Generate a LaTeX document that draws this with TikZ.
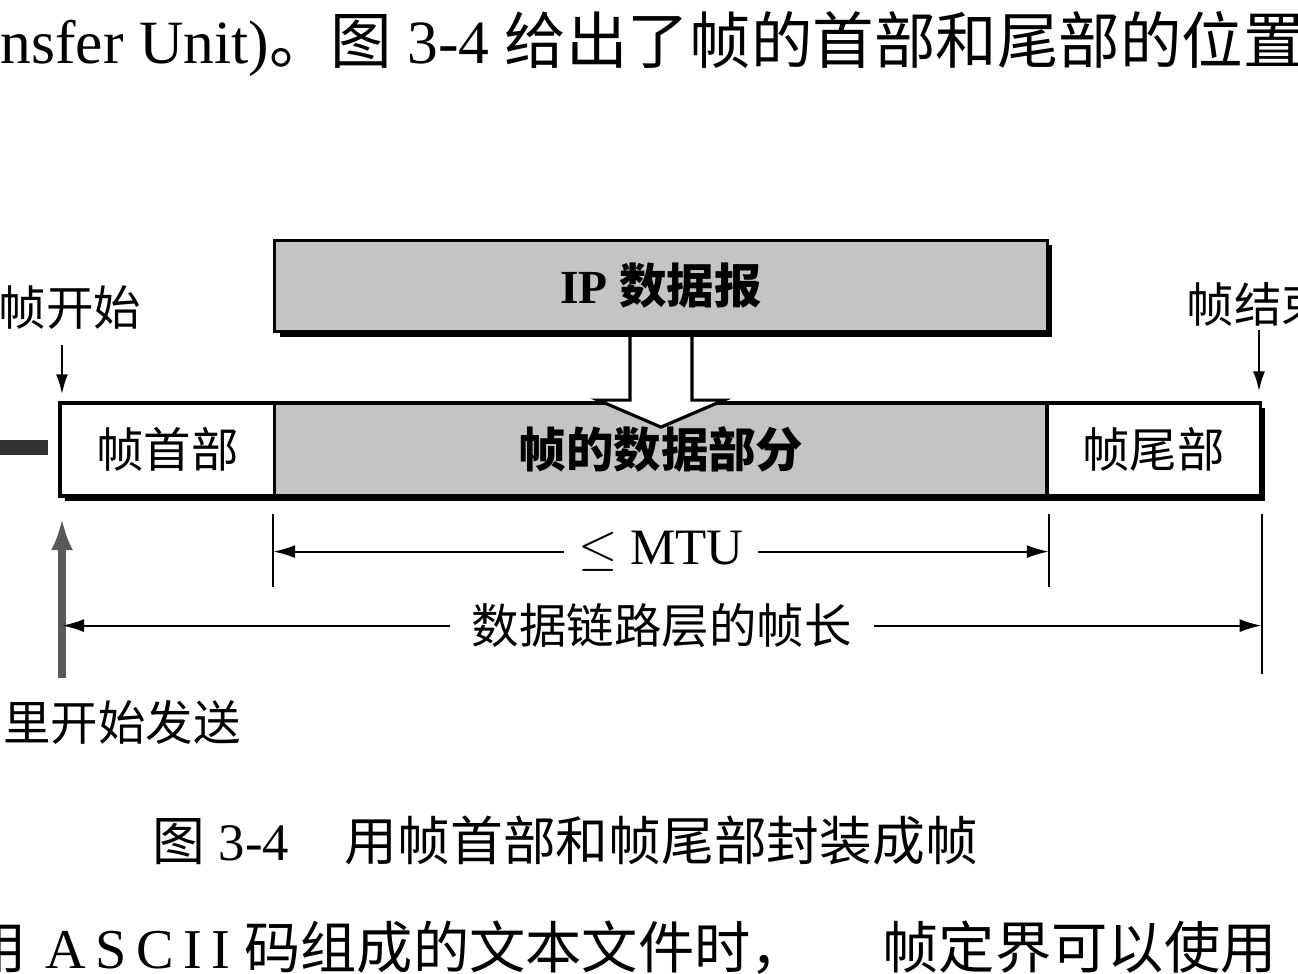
\documentclass[tikz,border=0pt]{standalone}
\usepackage{fontspec}
\setmainfont{Liberation Serif}
\newfontfamily\zh{Noto Sans CJK SC}
\usetikzlibrary{arrows.meta,shadows,calc}

\tikzset{
  part/.style={draw, line width=0.9pt, inner sep=0pt, minimum height=0.93cm,
    font=\fontsize{13.5}{16}\selectfont,
    drop shadow={shadow xshift=0.05cm, shadow yshift=-0.05cm, fill=black, opacity=1}},
  grey part/.style={part, fill=black!23},
  plain part/.style={part, fill=white},
  lab/.style={font=\zh\fontsize{13.5}{16}\selectfont, inner sep=0pt},
  measure/.style={line width=0.6pt,
    {Latex[length=0.22cm,width=0.13cm]}-{Latex[length=0.22cm,width=0.13cm]}},
  guide/.style={line width=0.6pt},
  pointer/.style={line width=0.7pt, -{Latex[length=0.2cm,width=0.12cm]}}
}

\begin{document}
\begin{tikzpicture}[x=0.01cm,y=-0.01cm]
\useasboundingbox (0,0) rectangle (1298,974);
\clip (0,0) rectangle (1298,974);

% running text of the page
\node[anchor=base west, inner sep=0pt, font=\fontsize{17.5}{20}\selectfont] (above) at (0,64)
  {nsfer Unit){\zh 。图} 3-4 {\zh 给出了帧的首部和尾部的位置}};

% IP datagram and the frame
\node[grey part, minimum width=7.72cm, minimum height=0.91cm] (ip) at (661,286) {\bfseries IP {\zh 数据报}};
\node[plain part, minimum width=2.15cm] (head) at (167.5,449.5) {\zh 帧首部};
\node[grey part, minimum width=7.72cm] (data) at (661,449.5) {\zh\bfseries 帧的数据部分};
\node[plain part, minimum width=2.13cm] (tail) at (1153.5,449.5) {\zh 帧尾部};

% hollow arrow
\filldraw[fill=white, line width=0.9pt] ($(ip.south)+(-31,4)$) -- ++(0,63) -- ++(-32,0)
  -- ++(63,27) -- ++(63,-27) -- ++(-32,0) -- ++(0,-63);

% bits sent before
\draw[line width=0.15cm, black!80] (0,448) -- (48,448);

% start and end of the frame
\node[lab] (begin) at (70,308) {帧开始};
\coordinate (b0) at (62,345);
\draw[pointer, shorten >=0.07cm] (b0) -- (b0 |- head.north);
\node[lab, anchor=west] (finish) at (1186,304) {帧结束};
\coordinate (e0) at (1259,330);
\draw[pointer, shorten >=0.1cm] (e0) -- (e0 |- tail.north);

% sending starts here
\coordinate (go) at (62,678);
\coordinate (go0) at (62,518);
\draw[line width=2pt, black!65, -{Latex[length=0.32cm,width=0.22cm]}] (go) -- (go0);
\node[lab] (send) at (122,722) {里开始发送};

% MTU
\draw[guide] ($(data.south west)+(0,16)$) -- ++(0,73);
\draw[guide] ($(data.south east)+(0,16)$) -- ++(0,73);
\coordinate (m1) at ($(data.south west)+(0,54)$);
\coordinate (m2) at ($(data.south east)+(0,54)$);
\draw[measure] (m1) -- node[fill=white, inner xsep=0.14cm, inner ysep=0pt,
  font=\fontsize{14.5}{16}\selectfont] (mtu) {$\leq$ MTU} (m2);

% frame length
\draw[guide] ($(tail.south east)+(0,16)$) -- ++(0,160);
\coordinate (l2) at ($(tail.south east)+(0,128)$);
\coordinate (l1) at (go |- l2);
\draw[measure] (l1) -- node[lab, fill=white, inner xsep=0.22cm] (len) {数据链路层的帧长} (l2);

% caption
\node[anchor=base west, inner sep=0pt, font=\fontsize{15}{18}\selectfont] (caption) at (152,860)
  {{\zh 图} 3-4\hspace{0.56cm}{\zh 用帧首部和帧尾部封装成帧}};

% running text below
\node[anchor=base east, inner sep=0pt, font=\zh\fontsize{16}{18}\selectfont] (below0) at (27,968) {用};
\node[anchor=base west, inner sep=0pt, font=\fontsize{16}{18}\selectfont] (below1) at (45,968)
  {A\,S\,C\,I\,I {\zh 码组成的文本文件时，}};
\node[anchor=base west, inner sep=0pt, font=\zh\fontsize{16}{18}\selectfont] (below2) at (882,968) {帧定界可以使用};
\end{tikzpicture}
\end{document}
